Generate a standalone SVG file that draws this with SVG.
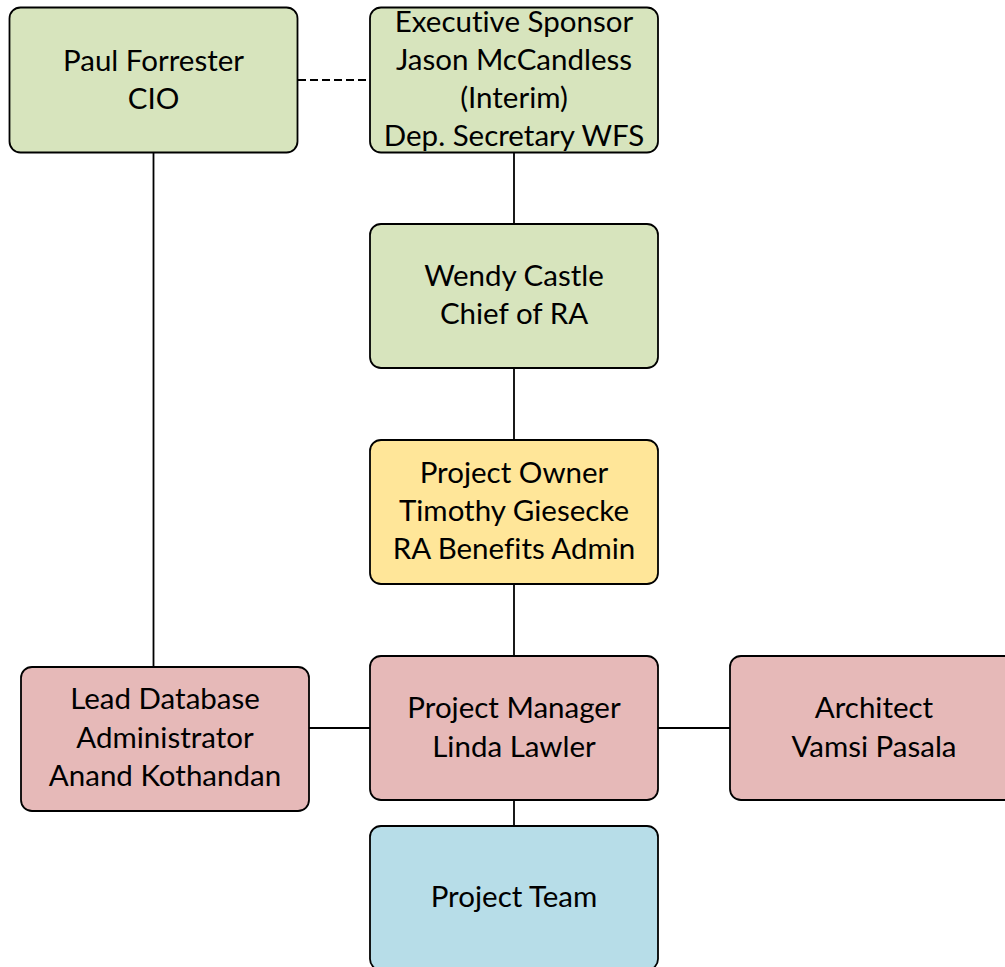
<svg xmlns="http://www.w3.org/2000/svg" width="1005" height="967" viewBox="0 0 1005 967">
  <style>
    .box { stroke: #000; stroke-width: 1.8; }
    .green { fill: #D7E4BD; }
    .yellow { fill: #FFE699; }
    .red { fill: #E6B9B8; }
    .blue { fill: #B7DDE8; }
    .lbl { font-family: Lato, "Liberation Sans", sans-serif; font-size: 29.5px; fill: #000; text-anchor: middle; font-variant-ligatures: none; }
    .link { stroke: #000; stroke-width: 1.8; fill: none; }
    .dash { stroke-dasharray: 8 4; }
  </style>
  <rect width="1005" height="967" fill="#fff"/>

  <g id="connectors">
    <line class="link dash" x1="298" y1="80" x2="370" y2="80"/>
    <line class="link" x1="153.5" y1="153" x2="153.5" y2="667"/>
    <line class="link" x1="514" y1="153" x2="514" y2="224"/>
    <line class="link" x1="514" y1="368" x2="514" y2="440"/>
    <line class="link" x1="514" y1="584" x2="514" y2="656"/>
    <line class="link" x1="514" y1="800" x2="514" y2="826"/>
    <line class="link" x1="309" y1="728" x2="370" y2="728"/>
    <line class="link" x1="658" y1="728" x2="730" y2="728"/>
  </g>

  <g id="cio">
    <rect class="box green" x="9.5" y="7.5" width="288" height="145" rx="11"/>
    <text class="lbl" x="153.5" y="71">Paul Forrester</text>
    <text class="lbl" x="153.5" y="109">CIO</text>
  </g>

  <g id="sponsor">
    <rect class="box green" x="370" y="7.5" width="288" height="145" rx="11"/>
    <text class="lbl" x="514" y="32">Executive Sponsor</text>
    <text class="lbl" x="514" y="70">Jason McCandless</text>
    <text class="lbl" x="514" y="108">(Interim)</text>
    <text class="lbl" x="514" y="146">Dep. Secretary WFS</text>
  </g>

  <g id="chief">
    <rect class="box green" x="370" y="224" width="288" height="144" rx="11"/>
    <text class="lbl" x="514" y="286">Wendy Castle</text>
    <text class="lbl" x="514" y="324">Chief of RA</text>
  </g>

  <g id="owner">
    <rect class="box yellow" x="370" y="440" width="288" height="144" rx="11"/>
    <text class="lbl" x="514" y="483">Project Owner</text>
    <text class="lbl" x="514" y="521">Timothy Giesecke</text>
    <text class="lbl" x="514" y="559">RA Benefits Admin</text>
  </g>

  <g id="manager">
    <rect class="box red" x="370" y="656" width="288" height="144" rx="11"/>
    <text class="lbl" x="514" y="718">Project Manager</text>
    <text class="lbl" x="514" y="757">Linda Lawler</text>
  </g>

  <g id="dba">
    <rect class="box red" x="21" y="667" width="288" height="144" rx="11"/>
    <text class="lbl" x="165" y="709">Lead Database</text>
    <text class="lbl" x="165" y="748">Administrator</text>
    <text class="lbl" x="165" y="786">Anand Kothandan</text>
  </g>

  <g id="architect">
    <rect class="box red" x="730" y="656" width="288" height="144" rx="11"/>
    <text class="lbl" x="874" y="718">Architect</text>
    <text class="lbl" x="874" y="757">Vamsi Pasala</text>
  </g>

  <g id="team">
    <rect class="box blue" x="370" y="826" width="288" height="144" rx="11"/>
    <text class="lbl" x="514" y="907">Project Team</text>
  </g>
</svg>
